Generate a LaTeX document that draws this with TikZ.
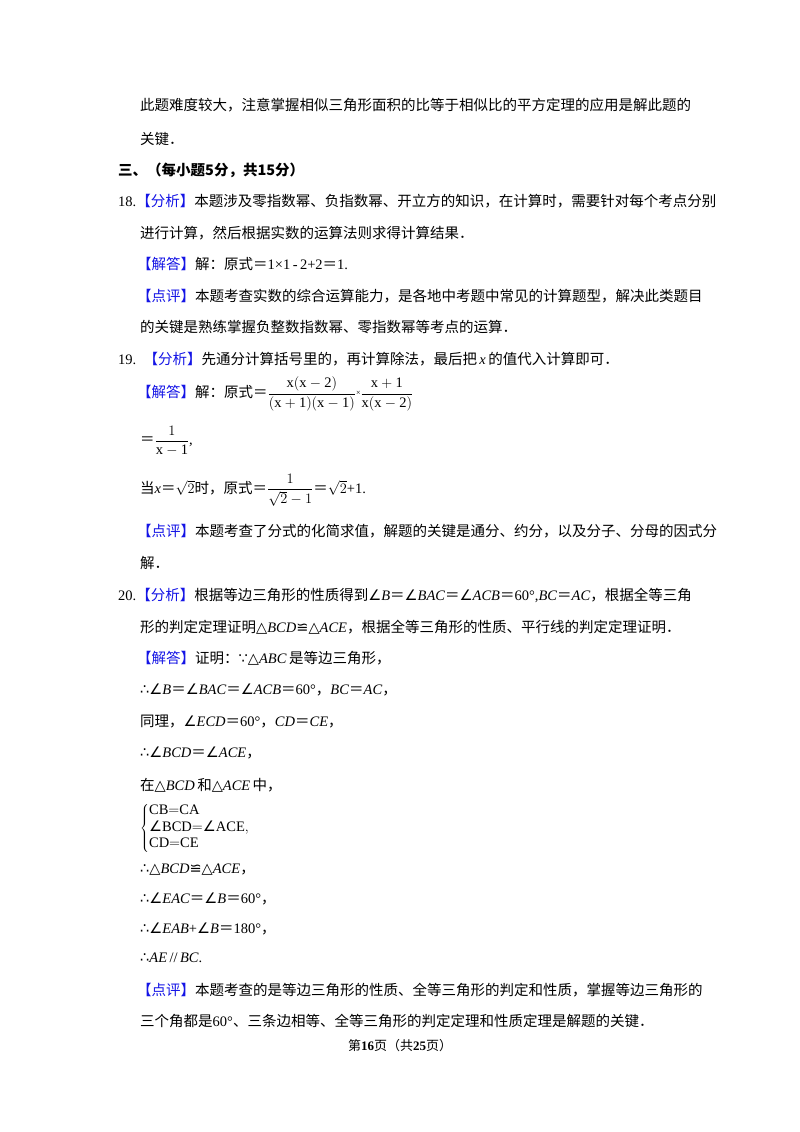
\documentclass[tikz,border=0pt]{standalone}
\usepackage{fontspec}
\setmainfont{Liberation Serif}
\newfontfamily\cjk{Noto Sans CJK SC}
\newfontfamily\sym{DejaVu Sans}
\definecolor{lblue}{RGB}{20,20,230}
\newcommand{\lb}[1]{{\color{lblue}\cjk 【#1】}}
\newcommand{\C}[1]{{\cjk #1}}
\newcommand{\ang}{{\sym\char"2220}}
\newcommand{\tri}{{\sym\char"25B3}}
\newcommand{\cng}{{\sym\char"224C}}
\newcommand{\thf}{{\sym\char"2234}}
\newcommand{\bec}{{\sym\char"2235}}
\begin{document}
\begin{tikzpicture}[x=1pt,y=-1pt,every node/.style={anchor=west,inner sep=0pt,font=\fontsize{14.5}{15}\selectfont}]
\useasboundingbox (0,0) rectangle (800,1132);
\fill[white] (0,0) rectangle (800,1132);
\node (l1) at (140,105) {\C{此题难度较大，注意掌握相似三角形面积的比等于相似比的平方定理的应用是解此题的}};
\node (l2) at (140,139) {\C{关键．}};
\node (l3) at (118,170) {\C{\bfseries 三、（每小题5分，共15分）}};
\node (l4) at (118,201) {18.\lb{分析}\C{本题涉及零指数幂、负指数幂、开立方的知识，在计算时，需要针对每个考点分别}};
\node (l5) at (140,233) {\C{进行计算，然后根据实数的运算法则求得计算结果．}};
\node (l6) at (137,264) {\lb{解答}\C{解：原式＝}1×1\,-\,2+2\C{＝}1.};
\node (l7) at (137,296) {\lb{点评}\C{本题考查实数的综合运算能力，是各地中考题中常见的计算题型，解决此类题目}};
\node (l8) at (140,327) {\C{的关键是熟练掌握负整数指数幂、零指数幂等考点的运算．}};
\node (l9) at (118,359) {19.\ \ \lb{分析}\C{先通分计算括号里的，再计算除法，最后把}\,\textit{x}\,\C{的值代入计算即可．}};
\node (l10) at (137,394) {\lb{解答}\C{解：原式＝}$\displaystyle\frac{\mathrm{x(x-2)}}{\mathrm{(x+1)(x-1)}}$\raisebox{2pt}{\footnotesize×}$\displaystyle\frac{\mathrm{x+1}}{\mathrm{x(x-2)}}$};
\node (l11) at (140,441) {\C{＝}$\displaystyle\frac{1}{\mathrm{x-1}}$,};
\node (l12) at (140,490) {\C{当}\textit{x}\C{＝}$\sqrt{2}$\C{时，原式＝}$\displaystyle\frac{1}{\sqrt{2}-1}$\C{＝}$\sqrt{2}$+1.};
\node (l13) at (137,531) {\lb{点评}\C{本题考查了分式的化简求值，解题的关键是通分、约分，以及分子、分母的因式分}};
\node (l14) at (140,563) {\C{解．}};
\node (l15) at (118,595) {20.\lb{分析}\C{根据等边三角形的性质得到}\ang\textit{B}\C{＝}\ang\textit{BAC}\C{＝}\ang\textit{ACB}\C{＝}60°,\textit{BC}\C{＝}\textit{AC}\C{，根据全等三角}};
\node (l16) at (140,627) {\C{形的判定定理证明}\tri\textit{BCD}\cng\tri\textit{ACE}\C{，根据全等三角形的性质、平行线的判定定理证明．}};
\node (l17) at (137,658) {\lb{解答}\C{证明：}\bec\tri\textit{ABC}\,\C{是等边三角形，}};
\node (l18) at (140,690) {\thf\ang\textit{B}\C{＝}\ang\textit{BAC}\C{＝}\ang\textit{ACB}\C{＝}60°\C{，}\textit{BC}\C{＝}\textit{AC}\C{，}};
\node (l19) at (140,722) {\C{同理，}\ang\textit{ECD}\C{＝}60°\C{，}\textit{CD}\C{＝}\textit{CE}\C{，}};
\node (l20) at (140,753) {\thf\ang\textit{BCD}\C{＝}\ang\textit{ACE}\C{，}};
\node (l21) at (140,785) {\C{在}\tri\textit{BCD}\,\C{和}\tri\textit{ACE}\,\C{中，}};
\node (sys) at (140,828) {\renewcommand{\arraystretch}{1.1}$\left\{\begin{array}{@{}l@{}}\mathrm{CB{=}CA}\\ \mbox{\ang}\mathrm{BCD{=}}\mbox{\ang}\mathrm{ACE,}\\ \mathrm{CD{=}CE}\end{array}\right.$};
\node (l22) at (140,870) {\thf\tri\textit{BCD}\cng\tri\textit{ACE}\C{，}};
\node (l23) at (140,899) {\thf\ang\textit{EAC}\C{＝}\ang\textit{B}\C{＝}60°\C{，}};
\node (l24) at (140,929) {\thf\ang\textit{EAB}+\ang\textit{B}\C{＝}180°\C{，}};
\node (l25) at (140,958) {\thf\textit{AE}\,//\,\textit{BC}.};
\node (l26) at (137,990) {\lb{点评}\C{本题考查的是等边三角形的性质、全等三角形的判定和性质，掌握等边三角形的}};
\node (l27) at (140,1021) {\C{三个角都是}60°\C{、三条边相等、全等三角形的判定定理和性质定理是解题的关键．}};
\node[anchor=center,font=\fontsize{13}{14}\selectfont] (ft) at (400,1046) {\C{第}\textbf{16}\C{页（共}\textbf{25}\C{页）}};
\end{tikzpicture}
\end{document}
